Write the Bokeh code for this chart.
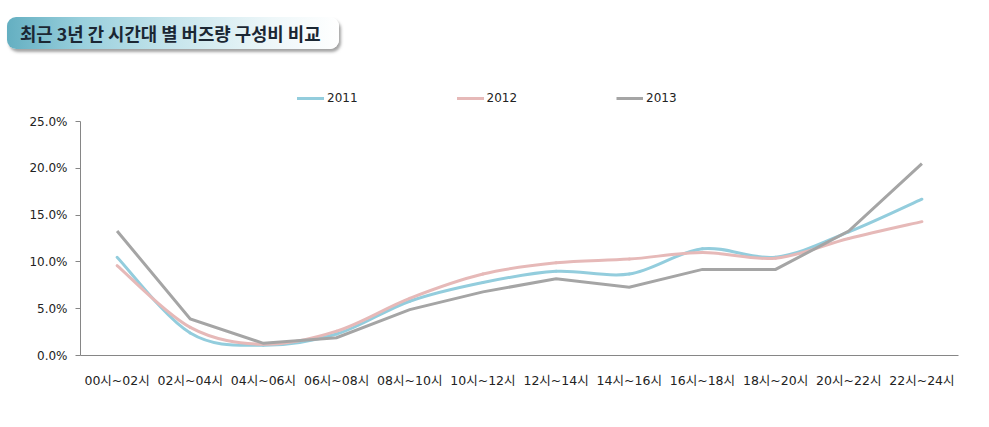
from bokeh.plotting import figure
from bokeh.models import (Div, Legend, LegendItem, FixedTicker, NumeralTickFormatter,
                          Range1d, ColumnDataSource)
from bokeh.layouts import column
from bokeh.embed import file_html
from bokeh.resources import INLINE

title_text = "최근 3년 간 시간대 별 버즈량 구성비 비교"
categories = ["00시~02시", "02시~04시", "04시~06시", "06시~08시", "08시~10시", "10시~12시",
              "12시~14시", "14시~16시", "16시~18시", "18시~20시", "20시~22시", "22시~24시"]
series_names = ["2011", "2012", "2013"]
s2011 = [0.105, 0.024, 0.011, 0.023, 0.058, 0.078, 0.090, 0.087, 0.114, 0.105, 0.132, 0.167]
s2012 = [0.096, 0.030, 0.012, 0.026, 0.061, 0.087, 0.099, 0.103, 0.110, 0.104, 0.125, 0.143]
s2013 = [0.133, 0.039, 0.013, 0.019, 0.049, 0.068, 0.082, 0.073, 0.092, 0.092, 0.133, 0.205]
y_ticks = [0.0, 0.05, 0.10, 0.15, 0.20, 0.25]
y_max = 0.25

colors = ["#93CDDD", "#E6B9B8", "#A5A5A5"]
smooth = [True, True, False]
FONT = "DejaVu Sans, Noto Sans CJK KR"

xs = [i + 0.5 for i in range(len(categories))]

title_div = Div(
    text=(
        '<div style="position:absolute;left:7px;top:17px;width:332px;height:32px;'
        'border-radius:9px;'
        'background:linear-gradient(to right,#64afc1 0%,#98cfdc 22%,#c6e5ec 50%,#eef7f9 80%,#ffffff 100%);'
        'box-shadow:2px 3px 3px rgba(90,90,90,0.55);'
        'font-family:\'Noto Sans CJK KR\';font-weight:bold;font-size:17.8px;color:#1b2733;'
        'line-height:32px;padding-left:13px;box-sizing:border-box;white-space:nowrap;">'
        + title_text + '</div>'
    ),
    width=981, height=60, margin=0,
)

# frame spans 80..355 px vertically; the 25% axis top sits at 121 px
frame_top_px, axis_top_px, frame_bottom_px = 80, 121, 355
y_end = y_max * (frame_bottom_px - frame_top_px) / (frame_bottom_px - axis_top_px)

p = figure(width=981, height=359, output_backend="svg", toolbar_location=None,
           x_range=Range1d(0, len(categories)), y_range=Range1d(0, y_end),
           min_border_left=80, min_border_right=23, min_border_top=20, min_border_bottom=64)
p.outline_line_color = None
p.xgrid.visible = False
p.ygrid.visible = False

items = []
for name, vals, col, sm in zip(series_names, [s2011, s2012, s2013], colors, smooth):
    if sm:
        n = len(vals)
        P = list(zip(xs, vals))
        x0, y0, x1, y1, cx0, cy0, cx1, cy1 = [], [], [], [], [], [], [], []
        for i in range(n - 1):
            pm = P[i - 1] if i > 0 else P[i]
            pa = P[i]
            pb = P[i + 1]
            pn = P[i + 2] if i + 2 < n else P[i + 1]
            x0.append(pa[0]); y0.append(pa[1])
            x1.append(pb[0]); y1.append(pb[1])
            cx0.append(pa[0] + (pb[0] - pm[0]) / 6.0)
            cy0.append(pa[1] + (pb[1] - pm[1]) / 6.0)
            cx1.append(pb[0] - (pn[0] - pa[0]) / 6.0)
            cy1.append(pb[1] - (pn[1] - pa[1]) / 6.0)
        src = ColumnDataSource(dict(x0=x0, y0=y0, x1=x1, y1=y1, cx0=cx0, cy0=cy0, cx1=cx1, cy1=cy1))
        r = p.bezier(x0="x0", y0="y0", x1="x1", y1="y1", cx0="cx0", cy0="cy0", cx1="cx1", cy1="cy1",
                     source=src, line_color=col, line_width=3, line_cap="round")
    else:
        r = p.line(xs, vals, line_color=col, line_width=3, line_join="miter")
    items.append(LegendItem(label=name, renderers=[r]))

legend = Legend(items=items, orientation="horizontal", location=(217, 247),
                glyph_width=27, glyph_height=20, label_standoff=3, spacing=99,
                padding=0, margin=0, border_line_color=None, background_fill_alpha=0,
                label_text_font=FONT, label_text_font_size="12px", label_text_color="#222222",
                label_height=20)
p.add_layout(legend, "center")

p.xaxis.ticker = FixedTicker(ticks=xs)
p.xaxis.major_label_overrides = {x: c for x, c in zip(xs, categories)}
p.xaxis.major_tick_line_color = None
p.xaxis.minor_tick_line_color = None
p.xaxis.axis_line_color = "#868686"
p.xaxis.major_label_standoff = 11
p.xaxis.major_label_text_font = FONT
p.xaxis.major_label_text_font_size = "12.5px"
p.xaxis.major_label_text_color = "#222222"

p.yaxis.ticker = FixedTicker(ticks=y_ticks)
p.yaxis.bounds = (0, y_max)
p.yaxis.formatter = NumeralTickFormatter(format="0.0%")
p.yaxis.axis_line_color = "#868686"
p.yaxis.major_tick_line_color = "#868686"
p.yaxis.major_tick_out = 5
p.yaxis.major_tick_in = 0
p.yaxis.minor_tick_line_color = None
p.yaxis.major_label_standoff = 8
p.yaxis.major_label_text_font = FONT
p.yaxis.major_label_text_font_size = "12px"
p.yaxis.major_label_text_color = "#222222"

layout = column(title_div, p, spacing=0)
open("out.html", "w").write(file_html(layout, INLINE))
